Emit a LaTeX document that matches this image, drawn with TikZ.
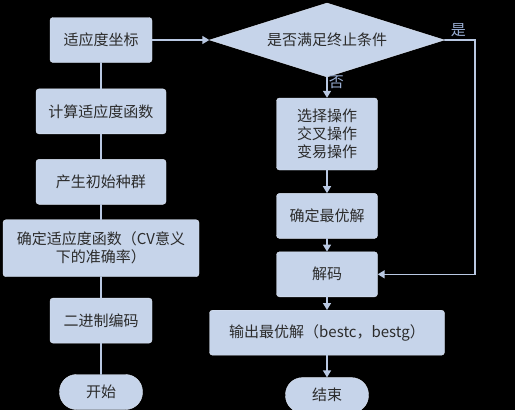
\documentclass[tikz,border=0pt]{standalone}
\usepackage{fontspec}
\setmainfont{Noto Sans CJK SC}
\usetikzlibrary{arrows.meta,positioning,shapes.geometric}
\definecolor{lanbg}{HTML}{C6D4EA}
\definecolor{lanbd}{HTML}{DDE5F3}
\definecolor{xian}{HTML}{B9C8E2}
\definecolor{zi}{HTML}{2B2B2B}
\definecolor{biao}{HTML}{9AAED3}

\begin{document}
\begin{tikzpicture}[
    x=1pt,y=1pt,>={Triangle[length=7pt,width=8pt]},line cap=round,
    box/.style={rectangle,rounded corners=3pt,fill=lanbg,draw=lanbd,
                text=zi,align=center,font=\fontsize{15}{18}\selectfont,
                inner sep=2pt,minimum height=45pt},
    duan/.style={box,rounded corners=17pt,minimum height=35pt,minimum width=83pt},
    panduan/.style={diamond,aspect=3.18,fill=lanbg,draw=lanbd,text=zi,
                font=\fontsize{15}{18}\selectfont,inner sep=0pt,
                minimum width=235pt,minimum height=74pt},
    lian/.style={xian,line width=1.5pt},
    arr/.style={->,xian,line width=1.5pt},
    arrlab/.style={biao,font=\fontsize{15}{18}\selectfont,inner sep=1pt}]
  % --- fondo
  \fill[black] (0,0) rectangle (515,-410);
  \useasboundingbox (0,0) rectangle (515,-410);
  % --- columna izquierda: de abajo hacia arriba
  \node[box,minimum width=102pt] (zuobiao) at (101,-40) {适应度坐标};
  \node[box,minimum width=130pt,below=26pt of zuobiao] (jisuan) {计算适应度函数};
  \node[box,minimum width=130pt,below=25pt of jisuan] (chansheng) {产生初始种群};
  \node[box,minimum width=196pt,minimum height=57pt,below=15pt of chansheng] (queding)
    {确定适应度函数（CV意义\\下的准确率）};
  \node[box,minimum width=102pt,below=21pt of queding] (bianma) {二进制编码};
  \node[duan,below=31pt of bianma] (kaishi) {开始};
  % --- columna derecha
  \node[panduan] (tiaojian) at (327,-40) {是否满足终止条件};
  \node[box,minimum width=101pt,minimum height=72pt] (caozuo) at (327,-134)
    {选择操作\\交叉操作\\变易操作};
  \node[box,minimum width=101pt,below=23pt of caozuo] (zuiyou) {确定最优解};
  \node[box,minimum width=101pt,below=13pt of zuiyou] (jiema) {解码};
  \node[box,minimum width=235pt,below=13pt of jiema] (shuchu) {输出最优解（bestc，bestg）};
  \node[duan,below=22pt of shuchu] (jieshu) {结束};
  \coordinate (zhuan) at (475,-40);
  % líneas izquierda
  \draw[lian] (kaishi) -- (bianma);
  \draw[lian] (bianma) -- (queding);
  \draw[lian] (queding) -- (chansheng);
  \draw[lian] (chansheng) -- (jisuan);
  \draw[lian] (jisuan) -- (zuobiao);
  % flechas
  \draw[arr] (zuobiao) -- (tiaojian);
  \draw[arr] (tiaojian) -- (caozuo)
        node[pos=0.22,right,arrlab]{否};
  \draw[arr] (caozuo) -- (zuiyou);
  \draw[arr] (zuiyou) -- (jiema);
  \draw[arr] (jiema) -- (shuchu);
  \draw[arr] (shuchu) -- (jieshu);
  \draw[arr] (tiaojian.east) -- node[pos=0.45,above=2pt,arrlab]{是} (zhuan) |- (jiema.east);
\end{tikzpicture}
\end{document}
